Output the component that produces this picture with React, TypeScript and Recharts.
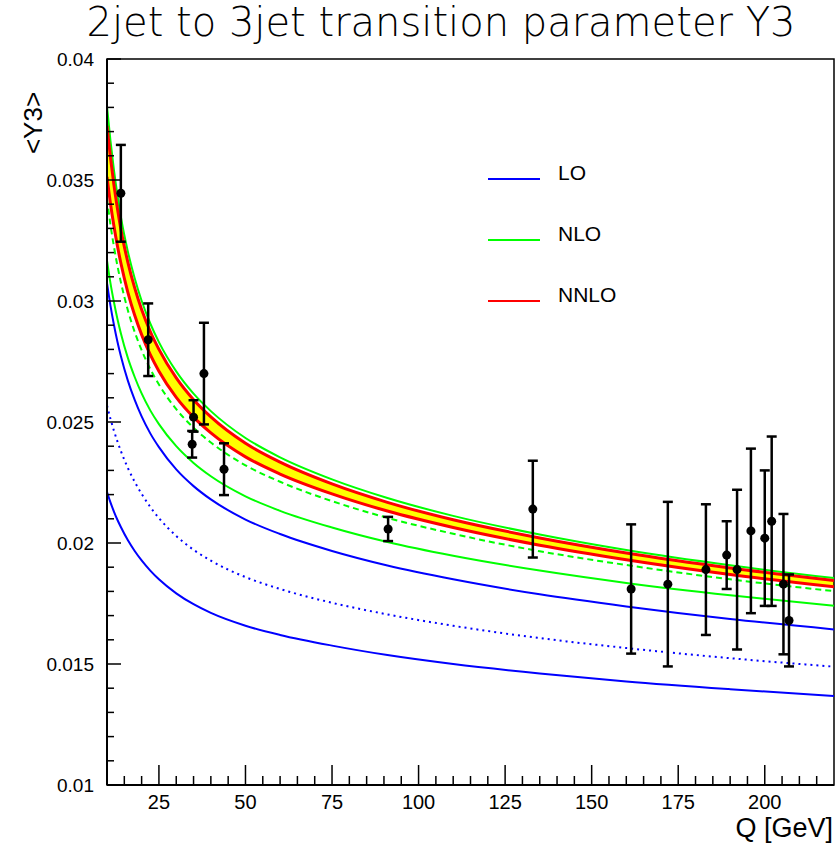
import React from 'react';
import {
  ComposedChart,
  Line,
  Area,
  Scatter,
  ErrorBar,
  XAxis,
  YAxis,
  ReferenceArea
} from 'recharts';

// Q grid for the theory curves (GeV)
const qGrid = [10, 11, 12, 13, 14, 16, 18, 20, 22.5, 25, 30, 35, 40, 50, 60, 75, 91, 110, 135, 160, 190, 220];

// LO (blue): upper solid, dotted central, lower solid
const loUpper = [0.03074, 0.02981, 0.02902, 0.02833, 0.02773, 0.02672, 0.02591, 0.02523, 0.02453, 0.02396, 0.02304, 0.02235, 0.0218, 0.02097, 0.02037, 0.01967, 0.01907, 0.0185, 0.01788, 0.01738, 0.01686, 0.01643];
const loCentral = [0.02568, 0.02513, 0.02464, 0.0242, 0.0238, 0.02311, 0.02253, 0.02203, 0.02149, 0.02103, 0.02029, 0.01972, 0.01927, 0.01859, 0.0181, 0.01753, 0.01705, 0.01658, 0.01607, 0.01566, 0.01524, 0.01489];
const loLower = [0.02211, 0.02168, 0.0213, 0.02096, 0.02066, 0.02012, 0.01967, 0.01928, 0.01886, 0.0185, 0.01792, 0.01747, 0.01711, 0.01658, 0.0162, 0.01576, 0.01537, 0.015, 0.01461, 0.01428, 0.01396, 0.01368];

// NLO (green): upper solid, dashed central, lower solid
const nloUpper = [0.03803, 0.03663, 0.03542, 0.03439, 0.03348, 0.03206, 0.03094, 0.03001, 0.02907, 0.0283, 0.02709, 0.02617, 0.02545, 0.02434, 0.02354, 0.02263, 0.02186, 0.02112, 0.02035, 0.01971, 0.01908, 0.01855];
const nloCentral = [0.03423, 0.03315, 0.03225, 0.03146, 0.03078, 0.02963, 0.02872, 0.02797, 0.02719, 0.02655, 0.02553, 0.02476, 0.02415, 0.02321, 0.02253, 0.02173, 0.02104, 0.02038, 0.01966, 0.01909, 0.0185, 0.01801];
const nloLower = [0.03167, 0.03074, 0.02996, 0.02927, 0.02867, 0.02766, 0.02686, 0.02618, 0.02548, 0.02491, 0.024, 0.02331, 0.02276, 0.02193, 0.02133, 0.02064, 0.02004, 0.01947, 0.01886, 0.01835, 0.01784, 0.01741];

// NNLO (red edges, yellow band)
const nnloUpper = [0.03723, 0.03593, 0.0348, 0.03383, 0.03297, 0.03162, 0.03054, 0.02965, 0.02874, 0.028, 0.02682, 0.02592, 0.02521, 0.02412, 0.02334, 0.02244, 0.02168, 0.02096, 0.02021, 0.01959, 0.01897, 0.01845];
const nnloLower = [0.03513, 0.03403, 0.0331, 0.03228, 0.03157, 0.03037, 0.02941, 0.02861, 0.02778, 0.0271, 0.02602, 0.0252, 0.02455, 0.02356, 0.02285, 0.02203, 0.02132, 0.02064, 0.01991, 0.01931, 0.0187, 0.01819];

// measurements
const dataQ = [14, 21.9, 35, 34.6, 38, 43.8, 91.2, 133, 161.4, 172, 183, 189, 192, 196, 200, 202, 205.4, 207];
const dataY = [0.03445, 0.0284, 0.0252, 0.02408, 0.0270, 0.02305, 0.02058, 0.0214, 0.0181, 0.0183, 0.0189, 0.0195, 0.0189, 0.0205, 0.0202, 0.0209, 0.0183, 0.0168];
const dataErrDown = [0.0020, 0.0015, 0.0006, 0.00055, 0.0021, 0.00107, 0.0005, 0.0020, 0.00267, 0.0034, 0.0027, 0.0014, 0.0033, 0.0034, 0.0028, 0.0035, 0.0029, 0.0019];
const dataErrUp = [0.0020, 0.0015, 0.0007, 0.00055, 0.0021, 0.00107, 0.0005, 0.0020, 0.00267, 0.0034, 0.0027, 0.0014, 0.0033, 0.0034, 0.0028, 0.0035, 0.0029, 0.0019];

const xTicks = [15, 20, 25, 30, 35, 40, 45, 50, 55, 60, 65, 70, 75, 80, 85, 90, 95, 100, 105, 110, 115, 120, 125, 130, 135, 140, 145, 150, 155, 160, 165, 170, 175, 180, 185, 190, 195, 200, 205, 210, 215];
const yTicks = [0.010, 0.011, 0.012, 0.013, 0.014, 0.015, 0.016, 0.017, 0.018, 0.019, 0.020, 0.021, 0.022, 0.023, 0.024, 0.025, 0.026, 0.027, 0.028, 0.029, 0.030, 0.031, 0.032, 0.033, 0.034, 0.035, 0.036, 0.037, 0.038, 0.039, 0.040];

const legendItems = [
  { name: 'LO', color: '#0000ff' },
  { name: 'NLO', color: '#00ff00' },
  { name: 'NNLO', color: '#ff0000' }
];

const curves = qGrid.map((q, i) => ({
  q,
  loUpper: loUpper[i],
  loCentral: loCentral[i],
  loLower: loLower[i],
  nloUpper: nloUpper[i],
  nloCentral: nloCentral[i],
  nloLower: nloLower[i],
  nnloUpper: nnloUpper[i],
  nnloLower: nnloLower[i],
  nnloBand: [nnloLower[i], nnloUpper[i]]
}));

const points = dataQ.map((q, i) => ({
  q,
  y: dataY[i],
  err: [dataErrDown[i], dataErrUp[i]]
}));

const labelFont = '"Liberation Sans", Arial, sans-serif';

const XTick = (props: any) => {
  const { x, y, payload } = props;
  const major = payload.value % 25 === 0;
  return (
    <g>
      <line x1={x} x2={x} y1={y} y2={y - (major ? 20 : 9)} stroke="#000" strokeWidth={1.5} />
      {major && (
        <text x={x} y={y + 24} textAnchor="middle" fontSize={20} fontFamily={labelFont} fill="#000">
          {payload.value}
        </text>
      )}
    </g>
  );
};

const YTick = (props: any) => {
  const { x, y, payload } = props;
  const milli = Math.round(payload.value * 1000);
  const major = milli % 5 === 0;
  return (
    <g>
      <line x1={x} x2={x + (major ? 14 : 7)} y1={y} y2={y} stroke="#000" strokeWidth={1.5} />
      {major && (
        <text x={x - 13} y={y + 7} textAnchor="end" fontSize={19} fontFamily={labelFont} fill="#000">
          {String(milli / 1000)}
        </text>
      )}
    </g>
  );
};

const LegendBox = () => (
  <svg width={200} height={170} style={{ position: 'absolute', left: 480, top: 150 }}>
    {legendItems.map((it, i) => (
      <g key={it.name}>
        <line x1={8} x2={60} y1={29 + i * 61} y2={29 + i * 61} stroke={it.color} strokeWidth={2} />
        <text x={78} y={30 + i * 61} fontSize={21} fontFamily={labelFont} fill="#000">{it.name}</text>
      </g>
    ))}
  </svg>
);

export default function App() {
  return (
    <div style={{ position: 'absolute', left: 0, top: 0, width: 837, height: 845, background: '#fff' }}>
      <div style={{
        position: 'absolute', left: 0, width: 882, top: 0, textAlign: 'center',
        fontFamily: '"DejaVu Sans", sans-serif', fontWeight: 200, fontSize: 40, lineHeight: '44px'
      }}>
        2jet to 3jet transition parameter Y3
      </div>
      <div style={{
        position: 'absolute', left: 33, top: 123, transform: 'translate(-50%, -50%) rotate(-90deg)',
        fontFamily: labelFont, fontSize: 26, whiteSpace: 'nowrap'
      }}>
        &lt;Y3&gt;
      </div>
      <div style={{
        position: 'absolute', right: 4, top: 815, fontFamily: labelFont, fontSize: 27, lineHeight: '27px',
        whiteSpace: 'nowrap'
      }}>
        Q [GeV]
      </div>
      <ComposedChart width={837} height={845} data={curves} margin={{ top: 59, right: 3, bottom: 0, left: 0 }}>
        <XAxis
          dataKey="q"
          type="number"
          domain={[10, 220]}
          ticks={xTicks}
          interval={0}
          allowDataOverflow
          height={60}
          tickSize={0}
          tickMargin={0}
          tickLine={false}
          axisLine={{ stroke: '#000', strokeWidth: 2 }}
          tick={<XTick />}
        />
        <YAxis
          type="number"
          domain={[0.01, 0.04]}
          ticks={yTicks}
          interval={0}
          allowDataOverflow
          width={107}
          tickSize={0}
          tickMargin={0}
          tickLine={false}
          axisLine={{ stroke: '#000', strokeWidth: 2 }}
          tick={<YTick />}
        />
        <Area type="monotone" dataKey="nnloBand" fill="#ffff00" fillOpacity={1} stroke="none" isAnimationActive={false} />
        <Line type="monotone" dataKey="loLower" stroke="#0000ff" strokeWidth={2} dot={false} isAnimationActive={false} />
        <Line type="monotone" dataKey="loCentral" stroke="#0000ff" strokeWidth={2} strokeDasharray="2 4" dot={false} isAnimationActive={false} />
        <Line type="monotone" dataKey="loUpper" stroke="#0000ff" strokeWidth={2} dot={false} isAnimationActive={false} />
        <Line type="monotone" dataKey="nloLower" stroke="#00ff00" strokeWidth={2} dot={false} isAnimationActive={false} />
        <Line type="monotone" dataKey="nloCentral" stroke="#00ff00" strokeWidth={2} strokeDasharray="6 4" dot={false} isAnimationActive={false} />
        <Line type="monotone" dataKey="nloUpper" stroke="#00ff00" strokeWidth={2} dot={false} isAnimationActive={false} />
        <Line type="monotone" dataKey="nnloUpper" stroke="#ff0000" strokeWidth={3} dot={false} isAnimationActive={false} />
        <Line type="monotone" dataKey="nnloLower" stroke="#ff0000" strokeWidth={3} dot={false} isAnimationActive={false} />
        <Scatter data={points} dataKey="y" fill="#000" isAnimationActive={false}>
          <ErrorBar dataKey="err" direction="y" width={5} stroke="#000" strokeWidth={2.5} />
        </Scatter>
        <ReferenceArea x1={10} x2={220} y1={0.01} y2={0.04} fill="none" stroke="#000" strokeWidth={1.5} ifOverflow="visible" />
      </ComposedChart>
      <LegendBox />
    </div>
  );
}
